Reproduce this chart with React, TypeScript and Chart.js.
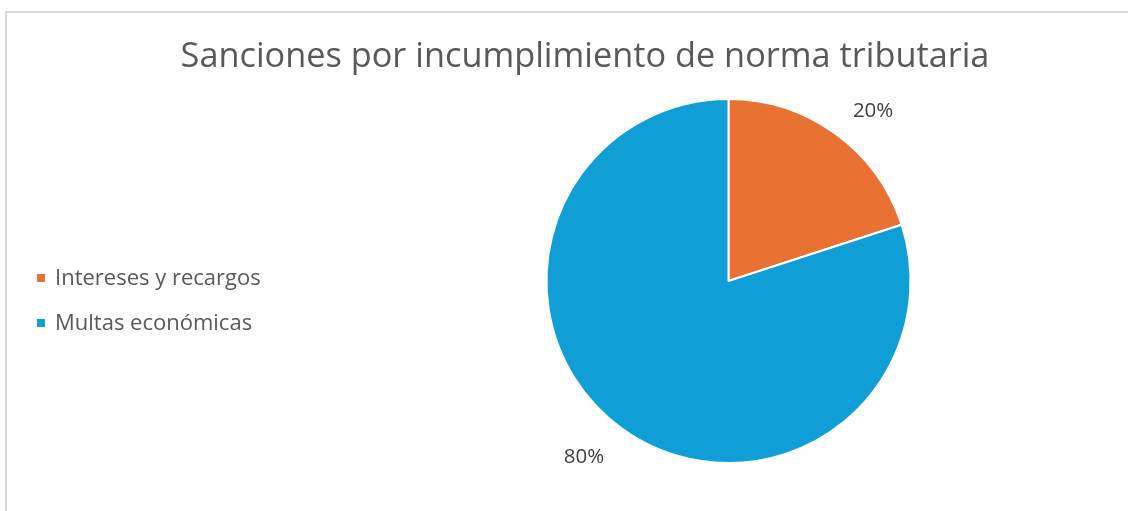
import React, { useEffect, useRef } from "react";
import { Chart, registerables } from "chart.js";

Chart.register(...registerables);

const title = "Sanciones por incumplimiento de norma tributaria";
const categories = ["Intereses y recargos", "Multas económicas"];
const values = [20, 80];
const colors = ["#E97132", "#0F9ED5"];

const FONT = "'Open Sans', sans-serif";

export default function App() {
  const ref = useRef<HTMLCanvasElement | null>(null);

  useEffect(() => {
    if (!ref.current) return;
    const total = values.reduce((a, b) => a + b, 0);

    const overlay = {
      id: "overlay",
      afterDraw(chart: any) {
        const ctx = chart.ctx as CanvasRenderingContext2D;
        ctx.save();
        // title
        ctx.fillStyle = "#595959";
        ctx.font = `34.3px ${FONT}`;
        ctx.textAlign = "center";
        ctx.textBaseline = "alphabetic";
        ctx.fillText(title, 585, 67);
        // legend
        ctx.font = `22px ${FONT}`;
        ctx.textAlign = "left";
        categories.forEach((c, i) => {
          const y = 278 + i * 45;
          ctx.fillStyle = colors[i];
          ctx.fillRect(37, y - 4, 8, 8);
          ctx.fillStyle = "#595959";
          ctx.textBaseline = "middle";
          ctx.fillText(c, 55, y + 1);
        });
        // data labels
        const meta = chart.getDatasetMeta(0);
        ctx.font = `20.5px ${FONT}`;
        ctx.fillStyle = "#404040";
        ctx.textAlign = "center";
        ctx.textBaseline = "middle";
        meta.data.forEach((arc: any, i: number) => {
          const { x, y, startAngle, endAngle, outerRadius } = arc.getProps(
            ["x", "y", "startAngle", "endAngle", "outerRadius"],
            true
          );
          const mid = (startAngle + endAngle) / 2;
          const r = outerRadius + 16;
          const ax = x + Math.cos(mid) * r;
          const ay = y + Math.sin(mid) * r;
          const label = Math.round((values[i] / total) * 100) + "%";
          const w = ctx.measureText(label).width;
          const h = 26;
          const cx = ax + Math.sign(Math.cos(mid)) * (w / 2 + 8);
          const cy = ay + Math.sign(Math.sin(mid)) * h / 2 + 3;
          ctx.fillText(label, cx, cy);
        });
        ctx.restore();
      },
    };

    const chart = new Chart(ref.current, {
      type: "pie",
      data: {
        labels: categories,
        datasets: [
          {
            data: values,
            backgroundColor: colors,
            borderColor: "#ffffff",
            borderWidth: 2,
          },
        ],
      },
      options: {
        animation: false,
        responsive: false,
        maintainAspectRatio: false,
        layout: { padding: { top: 98, bottom: 47, left: 545.5, right: 216.5 } },
        plugins: {
          legend: { display: false },
          title: { display: false },
          tooltip: { enabled: false },
        },
      },
      plugins: [overlay],
    });
    return () => chart.destroy();
  }, []);

  return (
    <div style={{ position: "fixed", left: 0, top: 0, width: 1128, height: 511, background: "#fff", overflow: "hidden" }}>
      <div
        style={{
          position: "absolute",
          left: 5,
          top: 11,
          width: 1140,
          height: 520,
          border: "2px solid #d9d9d9",
          boxSizing: "border-box",
        }}
      />
      <canvas ref={ref} width={1128} height={511} style={{ position: "absolute", left: 0, top: 0 }} />
    </div>
  );
}
